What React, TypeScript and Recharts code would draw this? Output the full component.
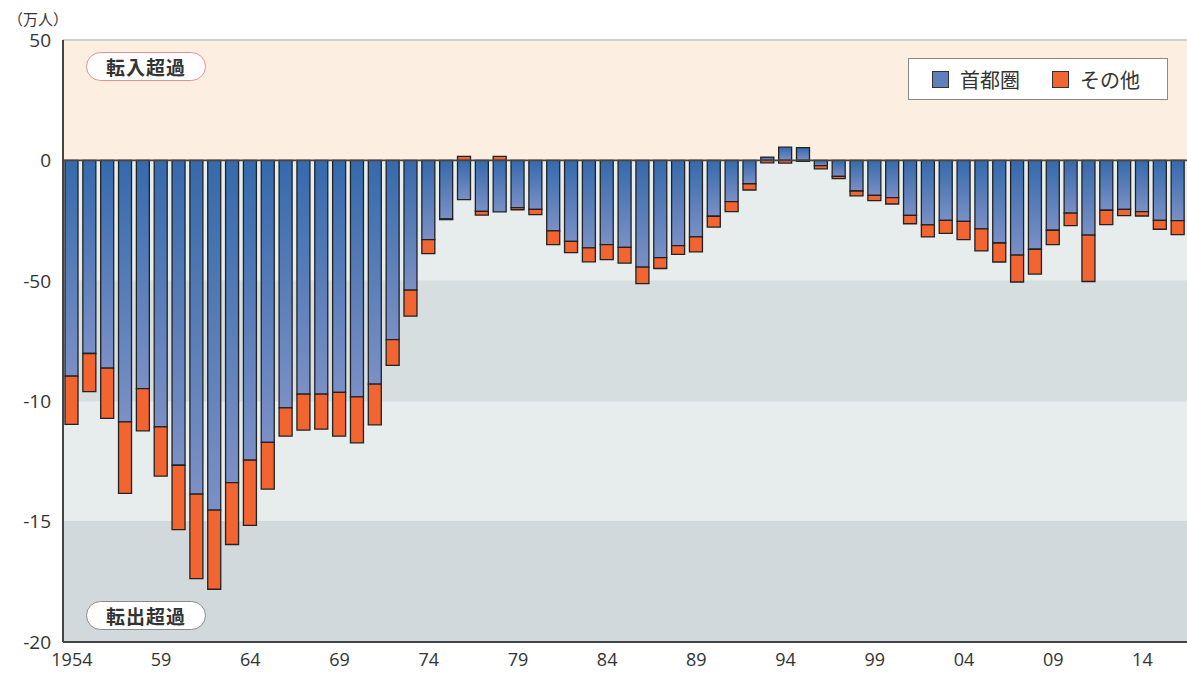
import React from 'react';
import { BarChart, Bar, XAxis, YAxis, CartesianGrid, ReferenceArea, ReferenceLine } from 'recharts';

// 年次（1954〜2016）
const years = [
  1954, 1955, 1956, 1957, 1958, 1959, 1960, 1961, 1962, 1963,
  1964, 1965, 1966, 1967, 1968, 1969, 1970, 1971, 1972, 1973,
  1974, 1975, 1976, 1977, 1978, 1979, 1980, 1981, 1982, 1983,
  1984, 1985, 1986, 1987, 1988, 1989, 1990, 1991, 1992, 1993,
  1994, 1995, 1996, 1997, 1998, 1999, 2000, 2001, 2002, 2003,
  2004, 2005, 2006, 2007, 2008, 2009, 2010, 2011, 2012, 2013,
  2014, 2015, 2016,
];

// 首都圏への転出超過（万人）
const shutoken = [
  -8.96, -8.02, -8.63, -10.86, -9.48, -11.07, -12.66, -13.86, -14.52, -13.38,
  -12.45, -11.71, -10.28, -9.71, -9.71, -9.63, -9.82, -9.29, -7.44, -5.39,
  -3.29, -2.43, -1.63, -2.12, -2.14, -1.96, -2.03, -2.93, -3.36, -3.63,
  -3.5, -3.61, -4.43, -4.04, -3.54, -3.18, -2.32, -1.71, -0.97, 0.14,
  0.55, 0.53, -0.22, -0.66, -1.27, -1.45, -1.55, -2.28, -2.68, -2.49,
  -2.53, -2.84, -3.43, -3.93, -3.69, -2.9, -2.19, -3.1, -2.07, -2.03,
  -2.13, -2.49, -2.5,
];

// その他
const sonota = [
  -2.0, -1.58, -2.08, -2.97, -1.75, -2.04, -2.67, -3.51, -3.29, -2.57,
  -2.71, -1.94, -1.17, -1.49, -1.45, -1.82, -1.91, -1.69, -1.07, -1.08,
  -0.58, -0.03, 0.17, -0.15, 0.17, -0.09, -0.22, -0.57, -0.47, -0.58,
  -0.62, -0.66, -0.69, -0.45, -0.36, -0.62, -0.45, -0.42, -0.26, -0.1,
  -0.11, -0.04, -0.13, -0.1, -0.2, -0.22, -0.26, -0.35, -0.5, -0.54,
  -0.76, -0.92, -0.79, -1.12, -1.03, -0.6, -0.52, -1.93, -0.6, -0.26,
  -0.18, -0.37, -0.58,
];

const yTicks = [5, 0, -5, -10, -15, -20];
const yTickLabels = ['50', '0', '-50', '-10', '-15', '-20'];
const xTickYears = [1954, 1959, 1964, 1969, 1974, 1979, 1984, 1989, 1994, 1999, 2004, 2009, 2014];
const xTickLabels = ['1954', '59', '64', '69', '74', '79', '84', '89', '94', '99', '04', '09', '14'];

const data = years.map((year, i) => ({ year, shutoken: shutoken[i], sonota: sonota[i] }));

const FONT = "'Open Sans', 'Noto Sans CJK JP', sans-serif";
const JP = "'Noto Sans CJK JP', 'Open Sans', sans-serif";

const pill = (border: string): React.CSSProperties => ({
  position: 'absolute',
  left: 86,
  width: 120,
  height: 29,
  boxSizing: 'border-box',
  border: `1.5px solid ${border}`,
  borderRadius: 15,
  background: '#fff',
  fontFamily: JP,
  fontWeight: 700,
  fontSize: 19,
  color: '#333',
  display: 'flex',
  alignItems: 'center',
  justifyContent: 'center',
  letterSpacing: 1,
});

export default function App() {
  return (
    <div style={{ position: 'absolute', left: 0, top: 0, width: 1187, height: 673, background: '#fff' }}>
      <BarChart
        width={1187}
        height={673}
        data={data}
        stackOffset="sign"
        margin={{ top: 40, right: 0, bottom: 0, left: 0 }}
        barCategoryGap={0}
      >
        <defs>
          <linearGradient id="blueGrad" x1="0" y1="0" x2="0" y2="1">
            <stop offset="0" stopColor="#356aac" />
            <stop offset="1" stopColor="#7b90c6" />
          </linearGradient>
        </defs>
        <ReferenceArea y1={5} y2={0} fill="#fcefe2" fillOpacity={1} stroke="none" />
        <ReferenceArea y1={0} y2={-5} fill="#e7eded" fillOpacity={1} stroke="none" />
        <ReferenceArea y1={-5} y2={-10} fill="#d7dee0" fillOpacity={1} stroke="none" />
        <ReferenceArea y1={-10} y2={-15} fill="#e7eded" fillOpacity={1} stroke="none" />
        <ReferenceArea y1={-15} y2={-20} fill="#d2d9dc" fillOpacity={1} stroke="none" />
        <CartesianGrid vertical={false} stroke="#b8bfc2" strokeWidth={1.2} />
        <XAxis
          dataKey="year"
          interval={4}
          tickLine={false}
          axisLine={{ stroke: '#444', strokeWidth: 2 }}
          tick={{ fontSize: 18, fill: '#333', fontFamily: FONT }}
          tickMargin={5}
          height={31}
          tickFormatter={(v: number) => {
            const k = xTickYears.indexOf(v);
            return k >= 0 ? xTickLabels[k] : '';
          }}
        />
        <YAxis
          domain={[-20, 5]}
          ticks={yTicks}
          interval={0}
          width={63}
          tickLine={false}
          axisLine={{ stroke: '#444', strokeWidth: 2 }}
          tick={{ fontSize: 19, fill: '#333', fontFamily: FONT }}
          tickMargin={6}
          tickFormatter={(v: number) => yTickLabels[yTicks.indexOf(v)]}
        />
        <Bar
          dataKey="shutoken"
          name="首都圏"
          stackId="a"
          fill="url(#blueGrad)"
          stroke="#222"
          strokeWidth={1.3}
          barSize={13}
          isAnimationActive={false}
        />
        <Bar
          dataKey="sonota"
          name="その他"
          stackId="a"
          fill="#f26430"
          stroke="#222"
          strokeWidth={1.3}
          barSize={13}
          isAnimationActive={false}
        />
        <ReferenceLine y={0} stroke="#444" strokeWidth={1.6} />
        <ReferenceLine y={5} stroke="#cfcfcf" strokeWidth={2} />
      </BarChart>

      <div style={{ position: 'absolute', left: 8, top: 8, fontFamily: JP, fontSize: 15, color: '#333' }}>（万人）</div>

      <div style={{ ...pill('#f08c8c'), top: 52 }}>転入超過</div>
      <div style={{ ...pill('#8a8a8a'), top: 601 }}>転出超過</div>

      <div
        style={{
          position: 'absolute',
          left: 908,
          top: 58,
          width: 260,
          height: 42,
          boxSizing: 'border-box',
          border: '1px solid #8a8a8a',
          background: '#fff',
          display: 'flex',
          alignItems: 'center',
          fontFamily: JP,
          fontSize: 20,
          color: '#333',
        }}
      >
        <span style={{ display: 'inline-block', width: 17, height: 17, marginLeft: 23, background: '#5e80bd', border: '1.5px solid #333', boxSizing: 'border-box' }} />
        <span style={{ marginLeft: 11 }}>首都圏</span>
        <span style={{ display: 'inline-block', width: 17, height: 17, marginLeft: 32, background: '#f26430', border: '1.5px solid #333', boxSizing: 'border-box' }} />
        <span style={{ marginLeft: 11 }}>その他</span>
      </div>
    </div>
  );
}
